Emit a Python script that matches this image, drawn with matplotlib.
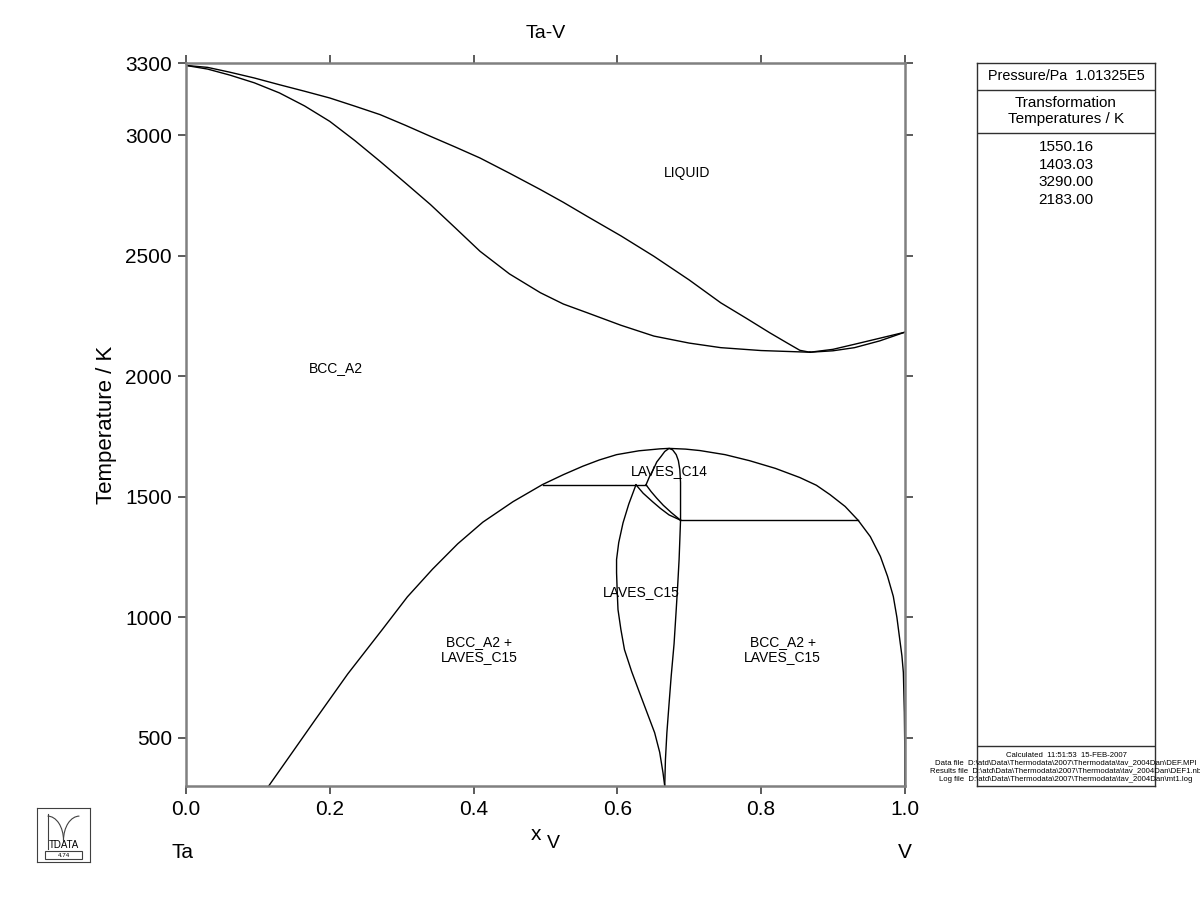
import numpy as np
import matplotlib
matplotlib.use("Agg")
import matplotlib.pyplot as plt
from matplotlib.patches import Rectangle, Arc

plt.rcParams['font.family'] = ['Liberation Sans', 'DejaVu Sans']

#Liquidus and solidus from pure Ta down to the congruent minimum
liq_x = [0.0, 0.030, 0.061, 0.095, 0.130, 0.165, 0.200, 0.235, 0.270, 0.305, 0.340, 0.375, 0.409,
         0.450, 0.493, 0.525, 0.558, 0.605, 0.651, 0.700, 0.744, 0.780, 0.812, 0.836, 0.854, 0.868]
liq_T = [3290, 3282, 3262, 3238, 3210, 3183, 3155, 3121, 3086, 3042, 2996, 2951, 2906,
         2843, 2775, 2722, 2664, 2583, 2498, 2400, 2305, 2240, 2181, 2139, 2108, 2100]
sol_x = [0.0, 0.030, 0.061, 0.095, 0.130, 0.165, 0.200, 0.235, 0.270, 0.305, 0.340, 0.375, 0.409,
         0.450, 0.493, 0.525, 0.558, 0.605, 0.651, 0.700, 0.744, 0.800, 0.868]
sol_T = [3290, 3275, 3250, 3218, 3176, 3122, 3058, 2978, 2892, 2803, 2713, 2615, 2519,
         2425, 2347, 2300, 2264, 2212, 2167, 2138, 2119, 2107, 2100]

#Liquidus and solidus from the minimum up to pure V
liq2_x = [0.868, 0.900, 0.930, 0.965, 1.0]
liq2_T = [2100, 2112, 2133, 2158, 2183]
sol2_x = [0.868, 0.900, 0.930, 0.965, 1.0]
sol2_T = [2100, 2106, 2119, 2147, 2183]

#BCC_A2 boundary of the two phase regions
dome_x = [0.115, 0.148, 0.180, 0.225, 0.273, 0.308, 0.343, 0.378, 0.413, 0.455, 0.496, 0.525,
          0.552, 0.575, 0.599, 0.630, 0.659, 0.672, 0.695, 0.715, 0.750, 0.784, 0.820, 0.854,
          0.877, 0.896, 0.917, 0.935, 0.952, 0.966, 0.976, 0.984, 0.989, 0.993, 0.996, 0.998,
          0.9994, 1.0, 1.0]
dome_T = [300, 440, 576, 765, 949, 1085, 1200, 1305, 1395, 1480, 1551, 1592,
          1627, 1653, 1675, 1691, 1699, 1701, 1698, 1692, 1675, 1650, 1618, 1580,
          1548, 1509, 1460, 1403, 1335, 1253, 1170, 1087, 1000, 908, 840, 771,
          605, 450, 300]

#Invariant lines
eut1_x = [0.496, 0.640]
eut1_T = [1550, 1550]
eut2_x = [0.688, 0.935]
eut2_T = [1403, 1403]

#LAVES_C15 single phase field
c15l_x = [0.626, 0.616, 0.608, 0.602, 0.599, 0.599, 0.600, 0.601, 0.605, 0.610, 0.620, 0.631,
          0.642, 0.652, 0.659, 0.6636, 0.666]
c15l_T = [1550, 1470, 1392, 1310, 1240, 1185, 1100, 1032, 950, 866, 775, 687,
          600, 521, 440, 355, 300]
c15r_x = [0.688, 0.687, 0.686, 0.684, 0.682, 0.679, 0.675, 0.672, 0.669, 0.667, 0.666]
c15r_T = [1403, 1320, 1240, 1130, 1032, 890, 756, 640, 521, 410, 300]

#LAVES_C14 single phase field
c14_x = [0.640, 0.645, 0.650, 0.655, 0.661, 0.666, 0.672, 0.677, 0.682, 0.685, 0.687, 0.688,
         0.688, 0.688]
c14_T = [1550, 1585, 1613, 1645, 1668, 1688, 1701, 1695, 1675, 1650, 1613, 1560,
         1502, 1403]

#Two phase C14 + C15 band
bandA_x = [0.626, 0.636, 0.649, 0.660, 0.672, 0.688]
bandA_T = [1550, 1515, 1480, 1452, 1425, 1403]
bandB_x = [0.640, 0.647, 0.655, 0.664, 0.675, 0.688]
bandB_T = [1550, 1522, 1494, 1465, 1435, 1403]

#Phase labels
labels = ['LIQUID', 'BCC_A2', 'LAVES_C14', 'LAVES_C15', 'BCC_A2 +\nLAVES_C15', 'BCC_A2 +\nLAVES_C15']
label_x = [0.697, 0.209, 0.673, 0.634, 0.408, 0.830]
label_T = [2845, 2036, 1609, 1103, 866, 866]

#Side panel texts
trans_T = ['1550.16', '1403.03', '3290.00', '2183.00']
footer = ['Calculated  11:51:53  15-FEB-2007',
          'Data file  D:\\atd\\Data\\Thermodata\\2007\\Thermodata\\tav_2004Dan\\DEF.MPI',
          'Results file  D:\\atd\\Data\\Thermodata\\2007\\Thermodata\\tav_2004Dan\\DEF1.nb',
          'Log file  D:\\atd\\Data\\Thermodata\\2007\\Thermodata\\tav_2004Dan\\mt1.log']

fig = plt.figure(figsize=(12, 9.23), dpi=100)
ax = fig.add_axes([0.155, 0.1484, 0.599, 0.7833])

lw = 1.0
for xs, ts in [(liq_x, liq_T), (sol_x, sol_T), (liq2_x, liq2_T), (sol2_x, sol2_T),
               (dome_x, dome_T), (eut1_x, eut1_T), (eut2_x, eut2_T),
               (c15l_x, c15l_T), (c15r_x, c15r_T), (c14_x, c14_T),
               (bandA_x, bandA_T), (bandB_x, bandB_T)]:
    ax.plot(xs, ts, color='black', linewidth=lw)

for s, x, t in zip(labels, label_x, label_T):
    ax.text(x, t, s, ha='center', va='center', fontsize=10, linespacing=1.15)

ax.set_xlim(0, 1)
ax.set_ylim(300, 3300)
ax.set_xticks([0.0, 0.2, 0.4, 0.6, 0.8, 1.0])
ax.set_xticklabels(['0.0', '0.2', '0.4', '0.6', '0.8', '1.0'])
ax.set_yticks([500, 1000, 1500, 2000, 2500, 3000, 3300])
ax.tick_params(direction='out', length=6, width=1.2, color='#404040', labelsize=15,
               top=True, right=True, pad=4)
for sp in ax.spines.values():
    sp.set_color('#808080')
    sp.set_linewidth(1.8)
ax.set_ylabel('Temperature / K', fontsize=16, labelpad=6)
ax.set_title('Ta-V', fontsize=14, pad=18)

#Axis end labels
fig.text(172 / 1200, 1 - 852 / 923, 'Ta', fontsize=15, ha='left', va='center')
fig.text(905 / 1200, 1 - 852 / 923, 'V', fontsize=15, ha='center', va='center')
fig.text(536 / 1200, 1 - 835 / 923, 'x', fontsize=15, ha='center', va='center')
fig.text(553 / 1200, 1 - 843 / 923, 'V', fontsize=14, ha='center', va='center')

#Side panel with the calculation information
pan = fig.add_axes([977 / 1200, 0.1484, 178 / 1200, 0.7833])
pan.set_xlim(0, 1)
pan.set_ylim(0, 1)
pan.set_xticks([])
pan.set_yticks([])
for sp in pan.spines.values():
    sp.set_color('#303030')
    sp.set_linewidth(1.0)
for yl in [0.9627, 0.9032, 0.0553]:
    pan.axhline(yl, color='#303030', linewidth=1.0)
pan.text(0.5, 0.982, 'Pressure/Pa  1.01325E5', ha='center', va='center', fontsize=10.4)
pan.text(0.5, 0.9336, 'Transformation\nTemperatures / K', ha='center', va='center', fontsize=11,
         linespacing=1.1)
for i, s in enumerate(trans_T):
    pan.text(0.5, 0.8838 - i * 0.0244, s, ha='center', va='center', fontsize=11)
for i, s in enumerate(footer):
    pan.text(0.5, 0.0429 - i * 0.0111, s, ha='center', va='center', fontsize=5.55, clip_on=False)

#Small TDATA logo in the corner
logo = fig.add_axes([37 / 1200, 1 - 862 / 923, 53 / 1200, 54 / 923])
logo.set_xlim(0, 1)
logo.set_ylim(0, 1)
logo.set_xticks([])
logo.set_yticks([])
for sp in logo.spines.values():
    sp.set_color('#404040')
    sp.set_linewidth(0.8)
logo.add_patch(Rectangle((0.15, 0.05), 0.7, 0.15, fill=False, edgecolor='#404040', linewidth=0.8))
logo.plot([0.2, 0.2], [0.25, 0.88], color='#404040', linewidth=0.8)
logo.add_patch(Arc((0.2, 0.4), 0.6, 0.9, theta1=0, theta2=90, color='#404040', linewidth=0.8))
logo.add_patch(Arc((0.8, 0.4), 0.6, 0.9, theta1=90, theta2=180, color='#404040', linewidth=0.8))
logo.text(0.5, 0.32, 'TDATA', ha='center', va='center', fontsize=7)
logo.text(0.5, 0.12, '4.74', ha='center', va='center', fontsize=4.5)

fig.savefig('out.png', dpi=100)
